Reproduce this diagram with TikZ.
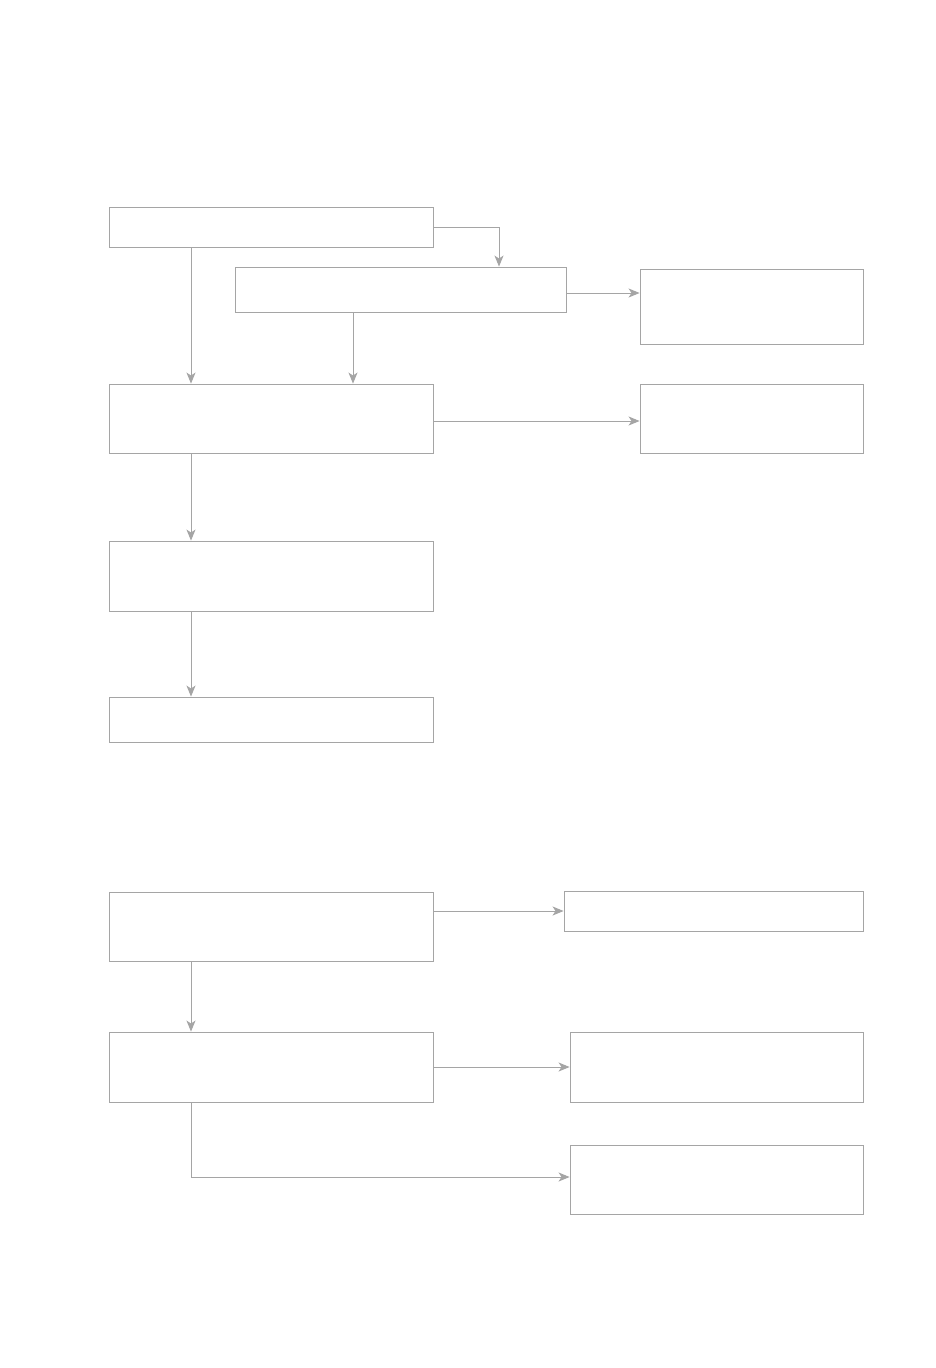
\documentclass[tikz,border=0pt]{standalone}
\usetikzlibrary{arrows.meta}
\definecolor{linegray}{RGB}{165,165,165}
\begin{document}
\begin{tikzpicture}[x=1pt,y=-1pt,
  box/.style={draw=linegray, line width=0.9pt, rectangle, inner sep=0pt, fill=white},
  arr/.style={draw=linegray, line width=0.9pt, -{Stealth[length=11pt,width=9pt,inset=3pt]}}]
\useasboundingbox[fill=white] (0,0) rectangle (936,1368);
% boxes
\node[box, minimum width=324pt, minimum height=40pt] (A) at (271,227) {};
\node[box, minimum width=331pt, minimum height=45pt] (B) at (400.5,289.5) {};
\node[box, minimum width=223pt, minimum height=75pt] (C) at (751.5,306.5) {};
\node[box, minimum width=324pt, minimum height=69pt] (D) at (271,418.5) {};
\node[box, minimum width=223pt, minimum height=69pt] (E) at (751.5,418.5) {};
\node[box, minimum width=324pt, minimum height=70pt] (F) at (271,576) {};
\node[box, minimum width=324pt, minimum height=45pt] (G) at (271,719.5) {};
\node[box, minimum width=324pt, minimum height=69pt] (H) at (271,926.5) {};
\node[box, minimum width=299pt, minimum height=40pt] (I) at (713.5,911) {};
\node[box, minimum width=324pt, minimum height=70pt] (J) at (271,1067) {};
\node[box, minimum width=293pt, minimum height=70pt] (K) at (716.5,1067) {};
\node[box, minimum width=293pt, minimum height=69pt] (L) at (716.5,1179.5) {};
% connectors
\draw[arr] (A.east) -| ([xshift=98.5pt]B.north);
\draw[arr] ([xshift=-80pt]A.south) -- ([xshift=-80pt]D.north);
\draw[arr] ([xshift=-47.5pt]B.south) coordinate (b1) -- (b1 |- D.north);
\draw[arr] ([yshift=-3.5pt]B.east) coordinate (b2) -- (b2 -| C.west);
\draw[arr] ([yshift=-2.5pt]D.east) coordinate (d1) -- (d1 -| E.west);
\draw[arr] ([xshift=-80pt]D.south) -- ([xshift=-80pt]F.north);
\draw[arr] ([xshift=-80pt]F.south) -- ([xshift=-80pt]G.north);
\draw[arr] (H.east |- I.west) -- (I.west);
\draw[arr] ([xshift=-80pt]H.south) -- ([xshift=-80pt]J.north);
\draw[arr] (J.east) -- (K.west);
\draw[arr] ([xshift=-80pt]J.south) |- ([yshift=2.5pt]L.west);
\end{tikzpicture}
\end{document}
